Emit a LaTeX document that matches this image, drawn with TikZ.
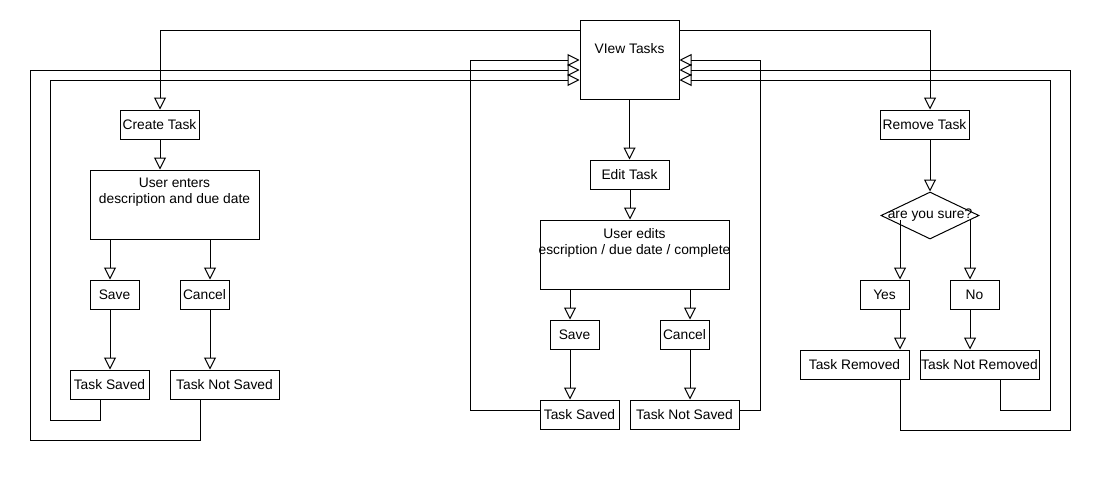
\documentclass[tikz,border=0pt]{standalone}
\usepackage{fontspec}
\setmainfont{Liberation Sans}
\usetikzlibrary{arrows.meta, shapes.geometric}

\begin{document}
\begin{tikzpicture}[x = 1pt, y = -1pt, line width = 1pt,
	> = {Triangle[open, length = 12pt, width = 12pt]},
	font = \fontsize{13.8}{16}\selectfont,
	box/.style = {draw, inner sep = 0pt, minimum height = 29pt},
	decision/.style = {draw, diamond, inner sep = 0pt, minimum width = 98pt, minimum height = 47pt}]

\useasboundingbox (0, 0) rectangle (1110, 480);

% The main box

\node [box, minimum width = 99pt, minimum height = 79pt, label = {[yshift = 11pt] center : VIew Tasks}] (view) at (629.5, 59.5) {};

% Create task

\node [box, minimum width = 79pt] (create) at (159.5, 124.5) {Create Task};
\node [box, minimum width = 169pt, minimum height = 69pt, label = {[align = center, yshift = 12pt] center : User enters\\description and due date}] (enter) at (174.5, 204.5) {};
\node [box, minimum width = 49pt] (save1) at (114.5, 294.5) {Save};
\node [box, minimum width = 49pt] (cancel1) at (204.5, 294.5) {Cancel};
\node [box, minimum width = 79pt] (saved1) at (109.5, 384.5) {Task Saved};
\node [box, minimum width = 109pt] (notsaved1) at (224.5, 384.5) {Task Not Saved};

% Edit task

\node [box, minimum width = 79pt] (edit) at (629.5, 174.5) {Edit Task};
\node [box, minimum width = 189pt, minimum height = 69pt] (edits) at (634.5, 254.5) {};
\begin{scope}
	\clip (edits.south west) rectangle (edits.north east);
	\node [align = center] at ([yshift = 12pt] edits.center) {User edits\\description / due date / completed};
\end{scope}
\node [box, minimum width = 49pt] (save2) at (574.5, 334.5) {Save};
\node [box, minimum width = 49pt] (cancel2) at (684.5, 334.5) {Cancel};
\node [box, minimum width = 79pt] (saved2) at (579.5, 414.5) {Task Saved};
\node [box, minimum width = 109pt] (notsaved2) at (684.5, 414.5) {Task Not Saved};

% Remove task

\node [box, minimum width = 89pt] (remove) at (924.5, 124.5) {Remove Task};
\node [decision, label = {center : are you sure?}] (sure) at (930, 215.5) {};
\node [box, minimum width = 49pt] (yes) at (884.5, 294.5) {Yes};
\node [box, minimum width = 49pt] (no) at (974.5, 294.5) {No};
\node [box, minimum width = 109pt] (removed) at (854.5, 364.5) {Task Removed};
\node [box, minimum width = 119pt] (notremoved) at (979.5, 364.5) {Task Not Removed};

% Out of the main box

\draw [->] (view.west |- 0, 30) -| (create.north -| 160, 0);
\draw [->] (view.south) -- (edit.north);
\draw [->] (view.east |- 0, 30) -| (remove.north -| 930, 0);

% Create branch

\draw [->] (create.south -| 160, 0) -- (enter.north -| 160, 0);
\draw [->] (enter.south -| 110, 0) -- (save1.north -| 110, 0);
\draw [->] (enter.south -| 210, 0) -- (cancel1.north -| 210, 0);
\draw [->] (save1.south -| 110, 0) -- (saved1.north -| 110, 0);
\draw [->] (cancel1.south -| 210, 0) -- (notsaved1.north -| 210, 0);

% Edit branch

\draw [->] (edit.south -| 630, 0) -- (edits.north -| 630, 0);
\draw [->] (edits.south -| 570, 0) -- (save2.north -| 570, 0);
\draw [->] (edits.south -| 690, 0) -- (cancel2.north -| 690, 0);
\draw [->] (save2.south -| 570, 0) -- (saved2.north -| 570, 0);
\draw [->] (cancel2.south -| 690, 0) -- (notsaved2.north -| 690, 0);

% Remove branch

\draw [->] (remove.south -| 930, 0) -- (sure.north);
\draw [->] (sure.center) ++ (-30, 4.5) -- (yes.north -| 900, 0);
\draw [->] (sure.center) ++ (40, 4.5) -- (no.north -| 970, 0);
\draw [->] (yes.south -| 900, 0) -- (removed.north -| 900, 0);
\draw [->] (no.south -| 970, 0) -- (notremoved.north -| 970, 0);

% Back to the main box

\draw [->] (saved1.south -| 100, 0) |- (50, 420) |- (view.west |- 0, 80);
\draw [->] (notsaved1.south -| 200, 0) |- (30, 440) |- (view.west |- 0, 70);
\draw [->] (saved2.west |- 0, 410) -| (470, 60) -- (view.west |- 0, 60);
\draw [->] (notsaved2.east |- 0, 410) -| (760, 60) -- (view.east |- 0, 60);
\draw [->] (removed.south -| 900, 0) |- (1070, 430) |- (view.east |- 0, 70);
\draw [->] (notremoved.south -| 1000, 0) |- (1050, 410) |- (view.east |- 0, 80);

\end{tikzpicture}
\end{document}
